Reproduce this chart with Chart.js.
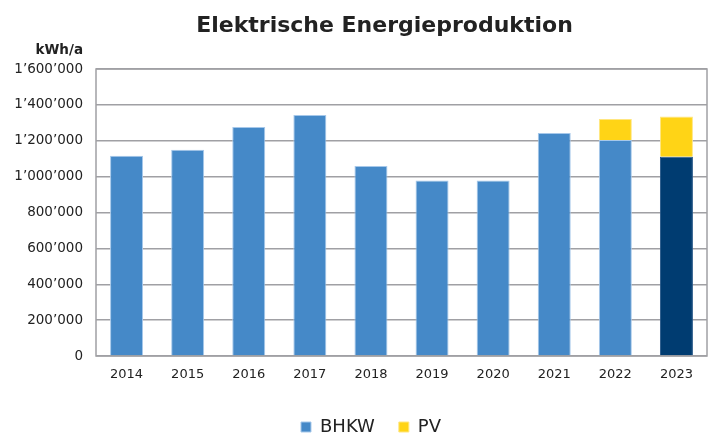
<!DOCTYPE html>
<html><head><meta charset="utf-8">
<script src="https://cdn.jsdelivr.net/npm/chart.js@4/dist/chart.umd.min.js"></script>
<style>html,body{margin:0;padding:0;background:#fff}#wrap{width:715px;height:439px;position:relative}</style>
</head><body><div id="wrap"><canvas id="c"></canvas></div>
<script>
const chartTitle = 'Elektrische Energieproduktion';
const unitLabel = 'kWh/a';
const categories = ['2014','2015','2016','2017','2018','2019','2020','2021','2022','2023'];
const seriesNames = ['BHKW','PV'];
const bhkwValues = [1117000,1150000,1276000,1344000,1059000,978000,978000,1243000,1204000,1111000];
const pvValues = [null,null,null,null,null,null,null,null,117000,224000];
const yTicks = [0,200000,400000,600000,800000,1000000,1200000,1400000,1600000];

const BLUE = '#4589c8', NAVY = '#003c71', YELLOW = '#ffd416';
const fmt = v => v.toString().replace(/\B(?=(\d{3})+(?!\d))/g, '\u2019');
const FONT = '"DejaVu Sans", "Liberation Sans", sans-serif';

const framePlugin = {
  id: 'frame',
  afterLayout(chart) {
    // shift legend so it is centred where the reference has it
    if (chart.legend) { chart.legend.left += 17.5; chart.legend.right += 17.5; }
  },
  beforeDatasetsDraw(chart) {
    const {ctx, chartArea: a} = chart;
    ctx.save();
    ctx.strokeStyle = '#a0a0a4';
    ctx.lineWidth = 1.5;
    ctx.strokeRect(a.left, a.top, a.right - a.left, a.bottom - a.top);
    ctx.restore();
  },
  afterDraw(chart) {
    const {ctx} = chart;
    ctx.save();
    ctx.fillStyle = '#222';
    ctx.textAlign = 'center';
    ctx.textBaseline = 'alphabetic';
    ctx.font = 'bold 22px ' + FONT;
    ctx.fillText(chartTitle, 384.5, 31.5);
    ctx.textAlign = 'right';
    ctx.font = 'bold 13.5px ' + FONT;
    ctx.fillText(unitLabel, 83, 54);
    ctx.restore();
  }
};

new Chart(document.getElementById('c'), {
  type: 'bar',
  data: {
    labels: categories,
    datasets: [
      {
        label: seriesNames[0],
        data: bhkwValues,
        backgroundColor: categories.map((c, i) => i === categories.length - 1 ? NAVY : BLUE),
        borderColor: categories.map((c, i) => i === categories.length - 1 ? '#2a5a8a' : '#a6c8ea'),
        borderWidth: 1,
        barPercentage: 0.54,
        categoryPercentage: 1
      },
      {
        label: seriesNames[1],
        data: pvValues,
        backgroundColor: YELLOW,
        borderColor: '#ffe680',
        borderWidth: 1,
        barPercentage: 0.54,
        categoryPercentage: 1
      }
    ]
  },
  options: {
    responsive: true,
    maintainAspectRatio: false,
    animation: false,
    devicePixelRatio: 1,
    layout: { padding: { top: 69, left: 0, right: 8, bottom: -7 } },
    plugins: {
      title: { display: false },
      tooltip: { enabled: false },
      legend: {
        display: true,
        position: 'bottom',
        labels: {
          boxWidth: 10, boxHeight: 10, padding: 24,
          color: '#222',
          font: { family: FONT, size: 18 }
        }
      }
    },
    scales: {
      x: {
        stacked: true,
        grid: { display: false, drawTicks: false },
        border: { display: false },
        ticks: { color: '#222', padding: 11, font: { family: FONT, size: 13 }, maxRotation: 0 },
        afterFit(axis) { axis.height = 38; }
      },
      y: {
        stacked: true,
        min: 0, max: 1600000,
        afterBuildTicks(axis) { axis.ticks = yTicks.map(v => ({ value: v })); },
        grid: { color: '#a0a0a4', lineWidth: 1.5, drawTicks: false },
        border: { display: false },
        ticks: { color: '#222', padding: 13, font: { family: FONT, size: 13.5 }, callback: v => fmt(v) },
        afterFit(axis) { axis.width = 96; }
      }
    }
  },
  plugins: [framePlugin]
});
</script>
</body></html>
